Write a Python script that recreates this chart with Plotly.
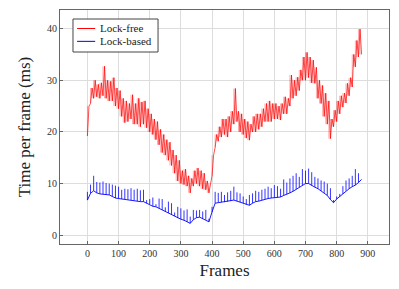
import plotly.graph_objects as go

# Samples are stored every 10 frames
frame_step = 10

# Lock-free: lower and upper envelope of the noisy band (upper one is 5 frames later)
lf_low = [19.2, 25.5, 26.5, 26.8, 26.5, 27.0, 26.5, 26.0, 26.0, 25.0,
          24.5, 23.0, 21.8, 22.0, 22.5, 21.5, 21.5, 21.0, 21.5, 20.8,
          20.0, 19.5, 18.5, 17.5, 16.0, 15.5, 14.5, 13.5, 12.0, 10.5,
          10.0, 9.8, 9.5, 8.2, 9.5, 10.0, 9.5, 9.0, 8.8, 8.2,
          11.5, 17.0, 18.2, 19.0, 19.5, 19.0, 20.0, 21.5, 22.0, 20.0,
          19.5, 18.8, 18.4, 20.0, 20.0, 20.5, 21.0, 22.0, 22.0, 22.0,
          22.5, 22.5, 22.3, 23.5, 23.5, 25.0, 26.5, 27.0, 28.0, 30.0,
          30.0, 30.5, 29.5, 29.4, 26.5, 25.5, 23.0, 21.5, 18.7, 21.0,
          22.0, 23.5, 24.8, 25.6, 27.0, 28.7, 32.6, 34.5, 35.0]
lf_high = [25.0, 28.5, 30.0, 29.2, 29.5, 32.7, 30.0, 29.8, 30.5, 28.5,
           28.0, 26.5, 26.0, 25.5, 27.2, 25.5, 26.5, 25.8, 26.0, 24.5,
           23.5, 22.5, 22.0, 20.5, 19.5, 18.5, 18.0, 16.5, 15.5, 14.5,
           12.5, 12.8, 11.5, 11.0, 12.5, 13.0, 12.5, 12.0, 10.5, 10.0,
           15.5, 19.5, 21.0, 22.5, 22.5, 23.0, 24.0, 28.4, 24.0, 23.5,
           22.5, 22.0, 21.5, 23.0, 23.5, 23.5, 24.5, 25.5, 26.0, 25.5,
           25.5, 25.0, 25.5, 26.8, 26.5, 31.0, 30.0, 30.6, 32.0, 34.5,
           35.4, 34.5, 33.9, 32.5, 30.0, 29.0, 27.5, 26.0, 22.5, 24.2,
           26.0, 27.0, 27.5, 29.4, 30.5, 35.0, 37.7, 39.9]

# Lock-based: baseline and spike tops, every 10 frames
lb_base = [6.8, 8.1, 8.6, 8.2, 8.0, 7.9, 7.8, 7.8, 7.5, 7.2,
           7.1, 7.0, 7.0, 6.9, 6.8, 6.7, 6.6, 6.5, 6.5, 6.2,
           6.0, 5.6, 5.5, 5.2, 4.9, 4.6, 4.3, 4.0, 3.7, 3.3,
           3.1, 2.9, 2.6, 2.3, 3.0, 3.4, 3.5, 3.2, 3.0, 2.6,
           4.5, 6.2, 6.3, 6.4, 6.4, 6.5, 6.6, 6.8, 6.6, 6.4,
           6.2, 5.9, 5.8, 6.2, 6.5, 6.6, 6.8, 7.0, 7.1, 7.2,
           7.3, 7.3, 7.4, 7.7, 7.9, 8.2, 8.5, 8.9, 9.3, 9.7,
           10.0, 10.0, 9.6, 9.3, 9.0, 8.6, 8.2, 7.7, 6.9, 6.3,
           7.0, 7.5, 8.0, 8.6, 9.0, 9.4, 9.7, 10.2, 10.8]
lb_peak = [8.4, 9.8, 11.5, 10.3, 10.2, 10.4, 10.1, 10.0, 9.8, 9.6,
           9.4, 8.8, 9.0, 8.9, 9.1, 8.8, 9.0, 8.7, 8.8, 6.8,
           7.0, 7.3, 6.0, 7.1, 7.0, 5.4, 6.5, 6.2, 4.4, 5.5,
           5.2, 4.8, 5.0, 3.6, 4.9, 4.8, 4.9, 4.6, 4.9, 3.2,
           5.5, 8.4, 8.2, 8.4, 7.8, 8.3, 8.6, 9.4, 8.3, 8.1,
           7.5, 7.0, 7.8, 8.1, 8.6, 8.4, 8.8, 9.0, 9.4, 9.1,
           9.7, 9.5, 9.0, 10.8, 10.2, 11.0, 11.5, 12.0, 11.3, 12.8,
           12.5, 12.9, 12.2, 11.3, 11.0, 10.6, 10.4, 10.0, 9.1, 6.8,
           7.5, 8.0, 9.5, 10.6, 11.0, 11.5, 12.8, 12.0, 10.8]

series_names = ["Lock-free", "Lock-based"]
series_colors = ["#ff0000", "#0000ff"]
x_ticks = [0, 100, 200, 300, 400, 500, 600, 700, 800, 900]
y_ticks = [0, 10, 20, 30, 40]

# Lock-free: zig-zag between low (frame 10k) and high (frame 10k+5),
# with vertical strokes spanning the band at every sample
lf_x, lf_y, lf_up, lf_dn = [], [], [], []
for i, v in enumerate(lf_low):
    lf_x.append(i * frame_step)
    lf_y.append(v)
    lf_up.append(lf_high[i] - v if i < len(lf_high) else 0)
    lf_dn.append(0)
    if i < len(lf_high):
        lf_x.append(i * frame_step + frame_step / 2)
        lf_y.append(lf_high[i])
        lf_up.append(0)
        nxt = lf_low[i + 1] if i + 1 < len(lf_low) else lf_high[i]
        lf_dn.append(max(lf_high[i] - nxt, 0))

# Lock-based: baseline with thin upward spikes
lb_x = [i * frame_step for i in range(len(lb_base))]
lb_spike = [p - b for p, b in zip(lb_peak, lb_base)]

FONT = "Liberation Serif, serif"

fig = go.Figure()
fig.add_trace(go.Scatter(x=lf_x, y=lf_y, mode="lines", name=series_names[0],
                         line=dict(color=series_colors[0], width=0.7),
                         error_y=dict(type="data", symmetric=False, array=lf_up,
                                      arrayminus=lf_dn, width=0,
                                      color="rgba(255,0,0,0.55)", thickness=0.6)))
fig.add_trace(go.Scatter(x=lb_x, y=lb_base, mode="lines", name=series_names[1],
                         line=dict(color=series_colors[1], width=0.9),
                         error_y=dict(type="data", symmetric=False, array=lb_spike,
                                      arrayminus=[0] * len(lb_spike), width=0,
                                      color=series_colors[1], thickness=0.8)))

# Legend box (pgfplots style), drawn in paper coordinates
shapes = [dict(type="rect", xref="paper", yref="paper", x0=0.0395, x1=0.298,
               y0=0.8205, y1=0.9615, line=dict(color="#444444", width=1),
               fillcolor="white", layer="above")]
annotations = []
for name, color, yp in zip(series_names, series_colors, [0.921, 0.866]):
    shapes.append(dict(type="line", xref="paper", yref="paper", x0=0.052, x1=0.107,
                       y0=yp, y1=yp, line=dict(color=color, width=1), layer="above"))
    annotations.append(dict(text=name, xref="paper", yref="paper", x=0.117, y=yp,
                            xanchor="left", yanchor="middle", showarrow=False,
                            font=dict(family=FONT, size=11, color="#222222")))

axis_common = dict(showline=True, linecolor="#666666", linewidth=1, mirror=True,
                   showgrid=True, gridcolor="#dddddd", gridwidth=1, zeroline=False,
                   ticks="inside", ticklen=3, tickcolor="#666666", automargin=False,
                   tickfont=dict(family=FONT, size=10, color="#333333"))

fig.update_layout(
    width=399, height=289,
    margin=dict(l=60, r=10, t=10, b=45),
    paper_bgcolor="white", plot_bgcolor="white",
    font=dict(family=FONT, color="#222222"),
    showlegend=False,
    shapes=shapes, annotations=annotations,
    xaxis=dict(range=[-88, 968], tickvals=x_ticks,
               title=dict(text="Frames", font=dict(family=FONT, size=17), standoff=6),
               **axis_common),
    yaxis=dict(range=[-1.7, 43.6], tickvals=y_ticks,
               title=dict(text="Time per frame (ms)", font=dict(family=FONT, size=17), standoff=12),
               **axis_common),
)

fig.write_html("out.html", config={"displayModeBar": False},
               post_script="document.body.style.margin='0';document.body.style.overflow='hidden';")
